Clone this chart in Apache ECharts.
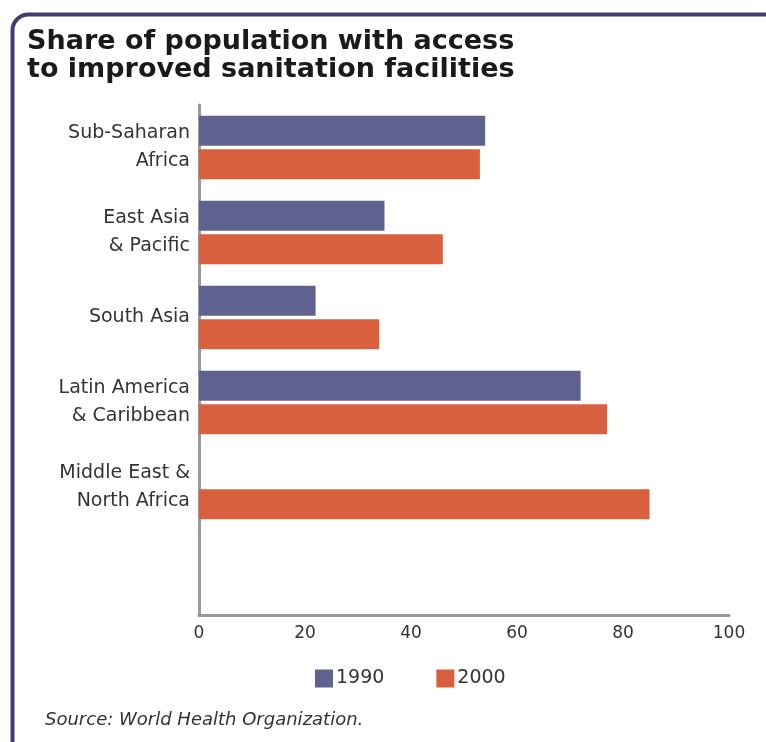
<!DOCTYPE html>
<html><head><meta charset="utf-8">
<script src="https://cdn.jsdelivr.net/npm/echarts@6/dist/echarts.min.js"></script>
<style>html,body{margin:0;padding:0;background:#fff}#c{width:766px;height:742px}</style>
</head><body><div id="c"></div>
<script>
const regions = ['Sub-Saharan\nAfrica', 'East Asia\n& Pacific', 'South Asia', 'Latin America\n& Caribbean', 'Middle East &\nNorth Africa', ''];
const values1990 = [54, 35, 22, 72, null, null];
const values2000 = [53, 46, 34, 77, 85, null];
const xTicks = [0, 20, 40, 60, 80, 100];
const seriesNames = ['1990', '2000'];

const chart = echarts.init(document.getElementById('c'));
const font = 'DejaVu Sans, Verdana, sans-serif';
chart.setOption({
  backgroundColor: '#fff',
  animation: false,
  graphic: [
    { type: 'rect', left: 10, top: 12, shape: { x: 0, y: 0, width: 780, height: 800, r: 16 }, style: { fill: 'none', stroke: '#3d3f72', lineWidth: 4 }, z: 0 },
    { type: 'text', left: 27, top: 28, style: { text: 'Share of population with access\nto improved sanitation facilities', font: 'bold 27px ' + font, fill: '#1a1a1a', lineHeight: 28 } },
    { type: 'text', left: 45, top: 711, style: { text: 'Source: World Health Organization.', font: 'italic 18px ' + font, fill: '#333' } }
  ],
  grid: { left: 199, right: 37, top: 105, bottom: 127, containLabel: false },
  legend: {
    data: seriesNames, top: 664, left: 310, itemGap: 52, itemWidth: 18, itemHeight: 18,
    icon: 'rect', textStyle: { fontFamily: font, fontSize: 19, color: '#333', padding: [0, 0, 0, -2] }
  },
  xAxis: {
    type: 'value', min: xTicks[0], max: xTicks[xTicks.length - 1], interval: 20,
    axisLine: { show: true, lineStyle: { color: '#999', width: 3 } },
    axisTick: { show: false }, splitLine: { show: false },
    axisLabel: { fontFamily: font, fontSize: 17, color: '#333', margin: 10 }
  },
  yAxis: {
    type: 'category', data: regions, inverse: true,
    axisLine: { show: true, lineStyle: { color: '#999', width: 3 } },
    axisTick: { show: false },
    axisLabel: { fontFamily: font, fontSize: 19, color: '#333', margin: 9, lineHeight: 28, align: 'right' }
  },
  series: [
    { name: seriesNames[0], type: 'bar', data: values1990, barWidth: 30, barGap: '12%', itemStyle: { color: '#5f628e' } },
    { name: seriesNames[1], type: 'bar', data: values2000, barWidth: 30, itemStyle: { color: '#d9603f' } }
  ]
});
</script></body></html>
